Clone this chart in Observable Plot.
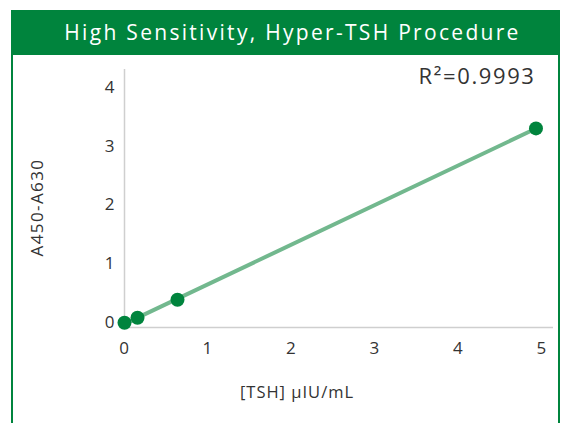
<!DOCTYPE html>
<html>
<head>
<meta charset="utf-8">
<script src="https://cdn.jsdelivr.net/npm/d3@7"></script>
<script src="https://cdn.jsdelivr.net/npm/@observablehq/plot@0.6"></script>
<style>
  body { margin: 0; background: #fff; font-family: "Open Sans", Lato, sans-serif; }
  #wrap { position: absolute; left: 11px; top: 10px; width: 549px; }
  #head { height: 45px; background: #00843d; color: #fff; font-size: 21px; text-align: center; line-height: 45px; letter-spacing: 2.3px; padding-left: 14px; box-sizing: border-box; }
  #body { border-left: 2px solid #00843d; border-right: 2px solid #00843d; height: 368px; }
  #body svg { display: block; }
</style>
</head>
<body>
<div id="wrap">
  <div id="head">High Sensitivity, Hyper-TSH Procedure</div>
  <div id="body"></div>
</div>
<script>
const title = "High Sensitivity, Hyper-TSH Procedure";
const tshConc = [0.0, 0.156, 0.635, 4.93];
const absorbance = [0.0, 0.085, 0.39, 3.30];
const xTicks = [0, 1, 2, 3, 4, 5];
const yTicks = [0, 1, 2, 3, 4];
const xLabel = "[TSH] µIU/mL";
const yLabel = "A450-A630";
const r2Label = "R²=0.9993";

const data = tshConc.map((x, i) => ({x, y: absorbance[i]}));
const yMin = -0.08;

const chart = Plot.plot({
  width: 545,
  height: 368,
  marginLeft: 111,
  marginRight: 5,
  marginTop: 14,
  marginBottom: 96,
  style: {fontFamily: "'Open Sans', Lato, sans-serif", fontSize: "17px", color: "#333", background: "transparent"},
  x: {domain: [0, 5.14], ticks: xTicks, tickFormat: "d", tickSize: 0, tickPadding: 14, label: null},
  y: {domain: [yMin, 4.3], ticks: yTicks, tickFormat: "d", tickSize: 0, tickPadding: 9, label: null},
  marks: [
    Plot.ruleY([yMin], {stroke: "#cfcfcf", strokeWidth: 1.5}),
    Plot.ruleX([0], {stroke: "#cfcfcf", strokeWidth: 1.5, y1: yMin, y2: 4.3}),
    Plot.linearRegressionY(data, {x: "x", y: "y", ci: 0, stroke: "#72b88e", strokeWidth: 4}),
    Plot.dot(data, {x: "x", y: "y", r: 7, fill: "#00843d", stroke: "none"}),
    Plot.text([r2Label], {frameAnchor: "top-right", dx: -18, dy: 7, textAnchor: "end", lineAnchor: "middle", fontSize: 22, fill: "#333"}),
    Plot.text([yLabel], {frameAnchor: "left", textAnchor: "middle", dx: -87, dy: 9, rotate: -90, fontSize: 17, fill: "#333"}),
    Plot.text([xLabel], {frameAnchor: "bottom", textAnchor: "middle", dx: -42, dy: 70, fontSize: 16.5, fill: "#333"})
  ]
});
chart.querySelectorAll("text").forEach(t => t.style.letterSpacing = "1px");
chart.querySelectorAll("text").forEach(t => { if (t.textContent === r2Label) t.style.letterSpacing = "1.6px"; if (t.textContent === yLabel) t.style.letterSpacing = "1.4px"; });
document.getElementById("body").appendChild(chart);
</script>
</body>
</html>
